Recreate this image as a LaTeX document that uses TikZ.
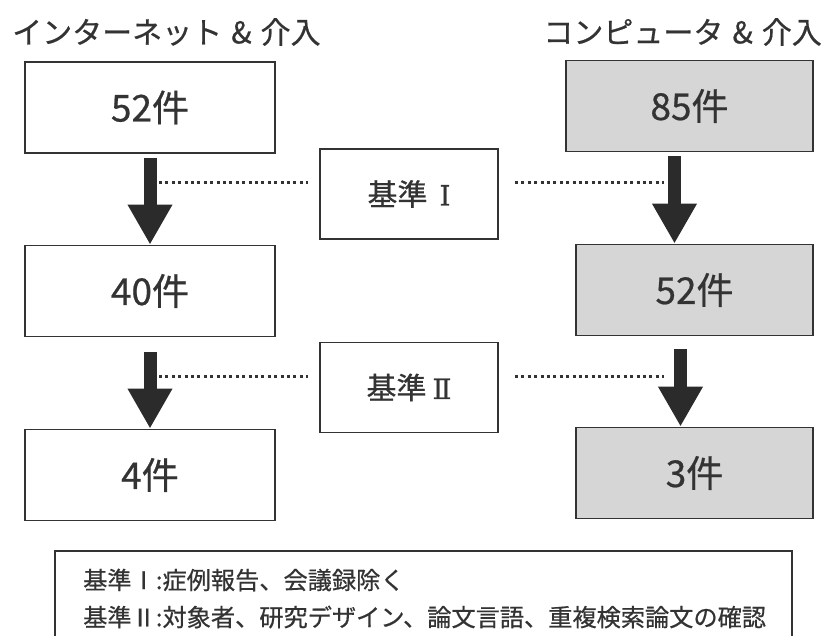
\documentclass[tikz,border=0pt]{standalone}
\usepackage{fontspec}
\setmainfont{Noto Sans CJK JP}
\newfontfamily\jpm{Noto Sans CJK JP}[FakeBold=0.6]
\newfontfamily\romnum{DejaVu Serif}[FakeBold=0.8]
\usetikzlibrary{arrows.meta}
\definecolor{ink}{HTML}{333333}
\definecolor{boxgray}{HTML}{D6D6D6}
\definecolor{arrowink}{HTML}{2B2B2B}
\tikzset{
  countbox/.style={draw=ink, line width=1.8pt, minimum width=250pt, minimum height=91pt, inner sep=0pt, text=ink, font=\jpm\fontsize{37}{40}\selectfont},
  graybox/.style={countbox, fill=boxgray},
  critbox/.style={draw=ink, line width=1.8pt, minimum width=178pt, minimum height=90pt, inner sep=0pt, text=ink, font=\jpm\fontsize{30}{34}\selectfont},
  titletext/.style={text=ink, inner sep=0pt, font=\jpm\fontsize{30}{32}\selectfont},
  legendtext/.style={text=ink, inner sep=0pt, anchor=west, font=\jpm\fontsize{24.2}{27}\selectfont},
  bigarrow/.style={draw=arrowink, line width=13pt, -{Triangle[width=42pt,length=40pt]}, arrowink},
  dotline/.style={draw=ink, line width=3pt, dash pattern=on 3pt off 3.4pt},
}
\begin{document}
\begin{tikzpicture}[x=1pt,y=-1pt]
\useasboundingbox (0,0) rectangle (825,636);
\fill[white] (0,0) rectangle (825,636);
% titles
\node[titletext, anchor=west] (tl) at (12,32) {インターネット\hspace{9pt}\&\hspace{9pt}介入};
\node[titletext, anchor=east] (tr) at (822,32) {コンピュータ\hspace{9pt}\&\hspace{9pt}介入};
% left column
\node[countbox] (L1) at (150,107.5) {52件};
\node[countbox] (L2) at (150,291) {40件};
\node[countbox] (L3) at (150,475) {4件};
% right column
\node[graybox, minimum width=247pt] (R1) at (689.5,106) {85件};
\node[graybox, minimum width=237pt] (R2) at (694.5,290) {52件};
\node[graybox, minimum width=237pt] (R3) at (694.5,473) {3件};
% criteria boxes
\node[critbox] (C1) at (409,194) {基準\hspace{12pt}{\romnum\fontsize{28}{30}\selectfont Ⅰ}};
\node[critbox] (C2) at (409,387.5) {基準\hspace{6pt}{\romnum\fontsize{28}{30}\selectfont Ⅱ}};
% arrows
\draw[bigarrow] ([yshift=-4pt]L1.south) -- (L2.north);
\draw[bigarrow] ([yshift=-15pt]L2.south) -- (L3.north);
\draw[bigarrow] ([xshift=-15pt,yshift=-4pt]R1.south) -- ([xshift=-15pt]R1.south |- R2.north);
\draw[bigarrow] ([xshift=-14pt,yshift=-13pt]R2.south) -- ([xshift=-14pt]R2.south |- R3.north);
% dotted connectors
\coordinate (d1a) at (159,183);
\coordinate (d1b) at ([xshift=-11pt]C1.west |- d1a);
\coordinate (d1c) at ([xshift=16pt]C1.east |- d1a);
\coordinate (d1d) at (664,183);
\draw[dotline] (d1a) -- (d1b);
\draw[dotline] (d1c) -- (d1d);
\coordinate (d2a) at (159,377);
\coordinate (d2b) at ([xshift=-11pt]C2.west |- d2a);
\coordinate (d2c) at ([xshift=16pt]C2.east |- d2a);
\coordinate (d2d) at (664,377);
\draw[dotline] (d2a) -- (d2b);
\draw[dotline] (d2c) -- (d2d);
% legend
\draw[ink, line width=1.6pt] (55,551) rectangle (792,650);
\node[legendtext] (g1) at (83,580) {基準Ⅰ:症例報告、会議録除く};
\node[legendtext] (g2) at (83,617) {基準Ⅱ:対象者、研究デザイン、論文言語、重複検索論文の確認};
\end{tikzpicture}
\end{document}
